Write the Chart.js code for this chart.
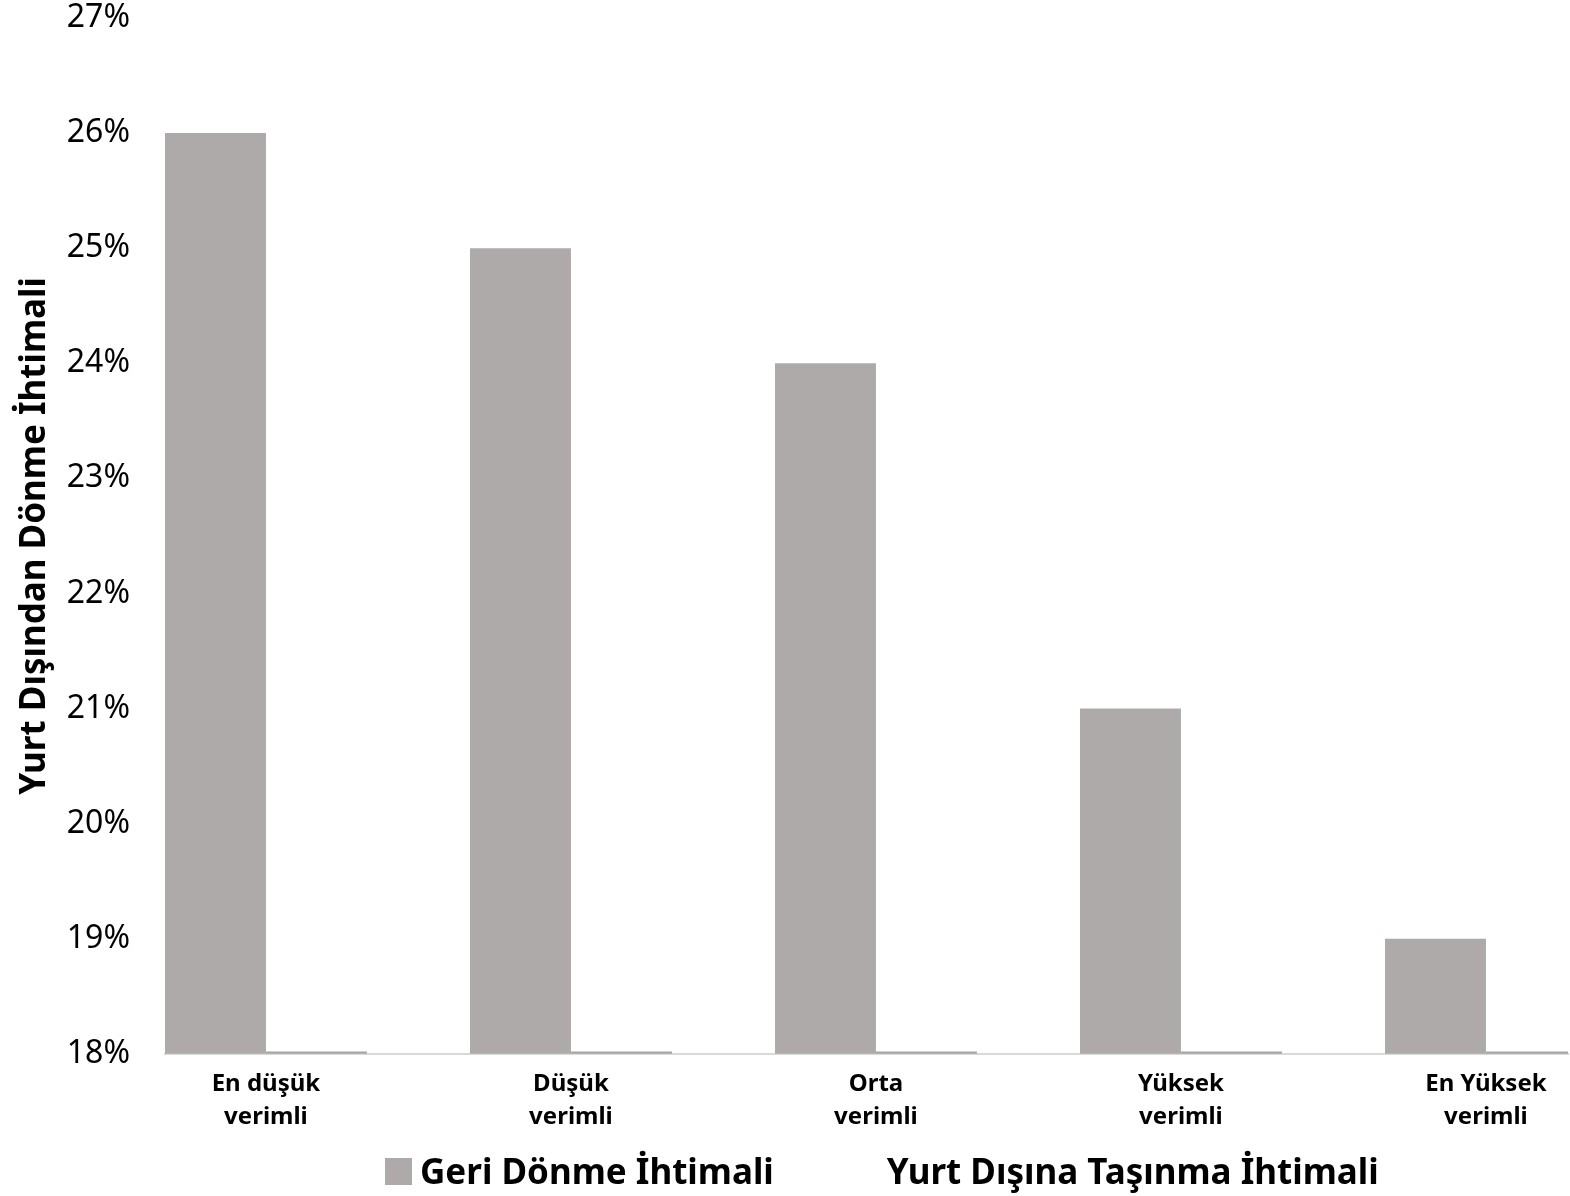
<!DOCTYPE html>
<html>
<head>
<meta charset="utf-8">
<script src="https://cdn.jsdelivr.net/npm/chart.js@4"></script>
<style>
  html, body { margin: 0; padding: 0; background: #fff; overflow: hidden; }
  #wrap { position: relative; width: 1570px; height: 1196px; }
  canvas { display: block; }
  #legend {
    position: absolute; left: 385px; top: 1147px;
    display: flex; align-items: center;
    font-family: 'Noto Sans', sans-serif; font-weight: bold; font-size: 35px; color: #000;
    white-space: nowrap; line-height: 48px;
  }
  #legend .item { display: flex; align-items: center; margin-right: 113px; }
  #legend .box { width: 27px; height: 27px; margin-right: 8px; }
</style>
</head>
<body>
<div id="wrap">
  <canvas id="chart" width="1570" height="1196"></canvas>
  <div id="legend"></div>
</div>
<script>
// kategoriler (verimlilik grupları)
const kategoriler = [
  ['En düşük', 'verimli'],
  ['Düşük', 'verimli'],
  ['Orta', 'verimli'],
  ['Yüksek', 'verimli'],
  ['En Yüksek', 'verimli']
];

// Geri dönme ihtimali (%)
const geriDonme = [26, 25, 24, 21, 19];
// Yurt dışına taşınma ihtimali (%) - grafikte taban çizgisinde
const tasinma = [18.02, 18.02, 18.02, 18.02, 18.02];

const yTicks = [18, 19, 20, 21, 22, 23, 24, 25, 26, 27];

const FONT = "'Noto Sans', sans-serif";
const GRI = '#aeaaaa';

const ctx = document.getElementById('chart').getContext('2d');

const chart = new Chart(ctx, {
  type: 'bar',
  data: {
    datasets: [
      {
        label: 'Geri Dönme İhtimali',
        data: geriDonme.map((v, i) => ({ x: i, y: v })),
        backgroundColor: GRI,
        barPercentage: 1,
        categoryPercentage: 0.662
      },
      {
        label: 'Yurt Dışına Taşınma İhtimali',
        data: tasinma.map((v, i) => ({ x: i, y: v })),
        backgroundColor: '#a6a6a6',
        legendBox: false,
        barPercentage: 1,
        categoryPercentage: 0.662
      }
    ]
  },
  options: {
    responsive: false,
    animation: false,
    layout: { padding: { top: 0, right: 2, bottom: 48, left: 0 } },
    plugins: {
      tooltip: { enabled: false },
      legend: { display: false }
    },
    scales: {
      x: {
        type: 'linear',
        offset: false,
        min: -0.331,
        max: 4.269,
        grid: { display: false, drawTicks: false },
        border: { display: true, color: '#d9d9d9', width: 2 },
        afterBuildTicks: (scale) => {
          scale.ticks = kategoriler.map((_, i) => ({ value: i }));
        },
        ticks: {
          autoSkip: false,
          maxRotation: 0,
          padding: 14,
          color: '#000',
          font: { family: FONT, size: 24, weight: 'bold', lineHeight: 1.38 },
          callback: (v) => kategoriler[v]
        }
      },
      y: {
        min: 18,
        max: 27,
        grid: { display: false, drawTicks: false },
        border: { display: false },
        afterBuildTicks: (scale) => {
          scale.ticks = yTicks.map(v => ({ value: v }));
        },
        afterFit: (scale) => {
          scale.width = 165;
          scale.paddingTop = 18;
          scale.paddingBottom = 0;
        },
        ticks: {
          padding: 35,
          color: '#000',
          font: { family: FONT, size: 32 },
          callback: (v) => v + '%'
        },
        title: {
          display: true,
          text: 'Yurt Dışından Dönme İhtimali',
          color: '#000',
          font: { family: FONT, size: 35, weight: 'bold' },
          padding: { top: 14, bottom: 0 }
        }
      }
    }
  }
});

// HTML lejant (veri setlerinden)
const legendEl = document.getElementById('legend');
chart.data.datasets.forEach(ds => {
  const item = document.createElement('div');
  item.className = 'item';
  if (ds.legendBox !== false) {
    const box = document.createElement('span');
    box.className = 'box';
    box.style.background = ds.backgroundColor;
    item.appendChild(box);
  }
  const txt = document.createElement('span');
  txt.textContent = ds.label;
  item.appendChild(txt);
  legendEl.appendChild(item);
});
</script>
</body>
</html>
